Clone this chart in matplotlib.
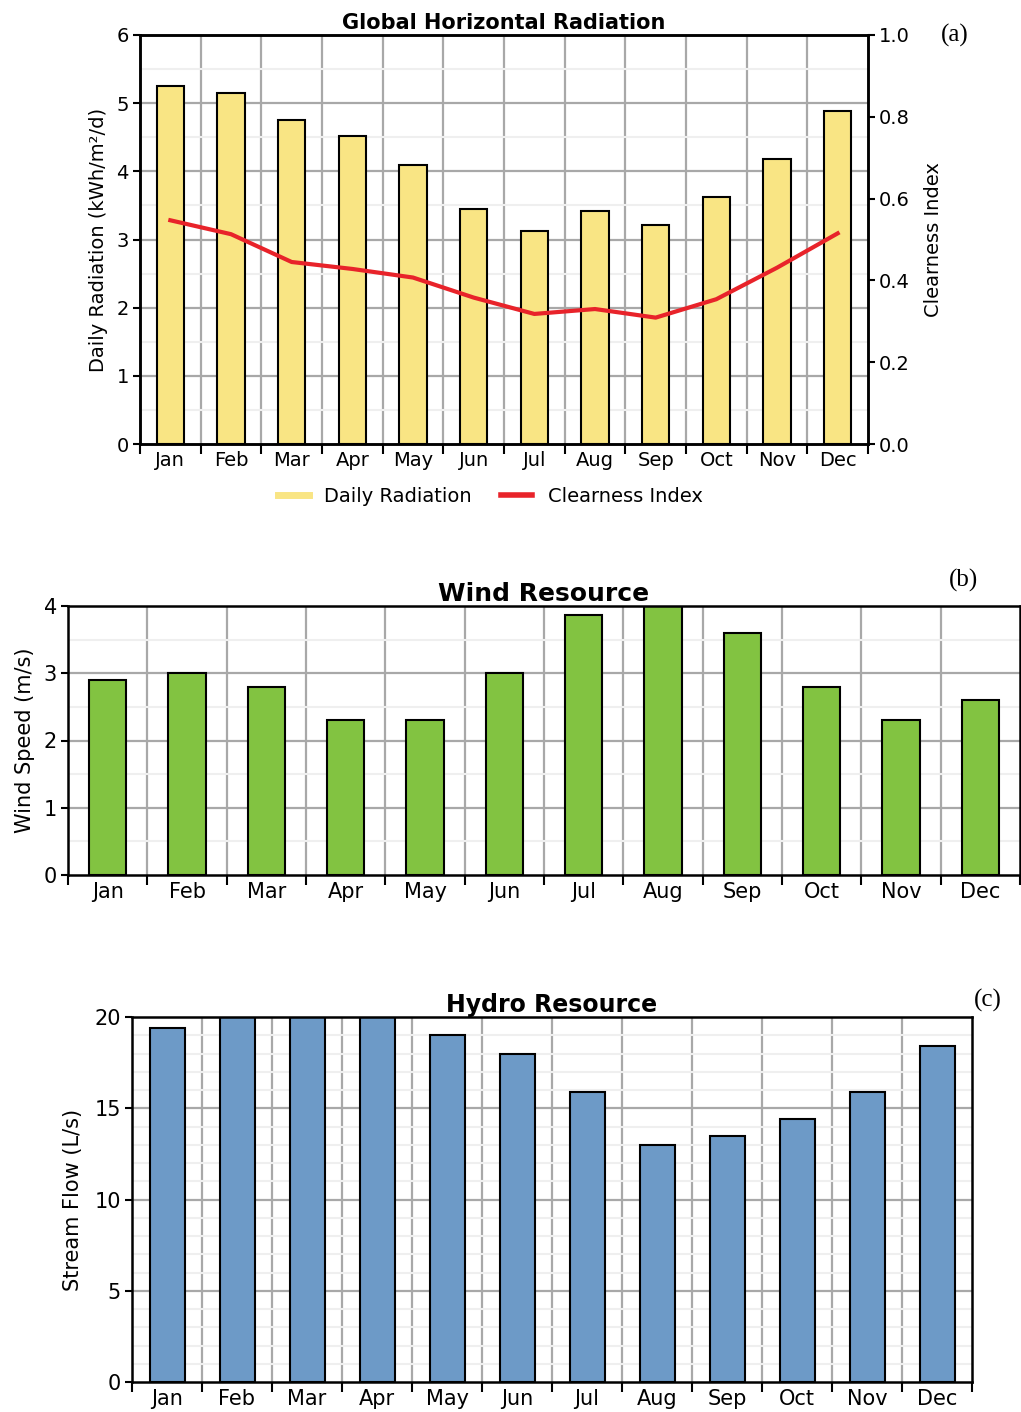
import matplotlib
matplotlib.use("Agg")
import matplotlib.pyplot as plt
import numpy as np
from matplotlib.lines import Line2D

months = ['Jan', 'Feb', 'Mar', 'Apr', 'May', 'Jun', 'Jul', 'Aug', 'Sep', 'Oct', 'Nov', 'Dec']

# (a) global horizontal radiation
daily_radiation = [5.25, 5.15, 4.75, 4.52, 4.09, 3.45, 3.12, 3.42, 3.22, 3.62, 4.18, 4.89]
clearness_index = [0.547, 0.513, 0.445, 0.428, 0.407, 0.358, 0.318, 0.330, 0.309, 0.354, 0.431, 0.515]

# (b) wind resource
wind_speed = [2.9, 3.0, 2.8, 2.3, 2.3, 3.0, 3.86, 4.0, 3.6, 2.8, 2.3, 2.6]

# (c) hydro resource
stream_flow = [19.4, 20.0, 20.0, 20.0, 19.0, 18.0, 15.9, 13.0, 13.5, 14.4, 15.9, 18.4]

YELLOW = '#F9E584'
GREEN = '#82C341'
BLUE = '#6D9AC7'
RED = '#E8232A'
GRID = '#A8A8A8'

W, H = 1021, 1412
fig = plt.figure(figsize=(W / 100, H / 100), dpi=100)


def px_axes(left, top, right, bottom):
    return fig.add_axes([left / W, 1 - bottom / H, (right - left) / W, (bottom - top) / H])


def style(ax, ymax, ystep, yminor, tick_fs=14):
    x = np.arange(len(months))
    ax.set_xlim(-0.5, len(months) - 0.5)
    ax.set_ylim(0, ymax)
    # boundary ticks + labels at centres
    ax.set_xticks(np.arange(-0.5, len(months), 1))
    ax.set_xticklabels([])
    ax.set_xticks(x, minor=True)
    ax.set_xticklabels(months, minor=True, fontsize=tick_fs)
    ax.tick_params(axis='x', which='major', length=7, width=1.5, direction='out')
    ax.tick_params(axis='x', which='minor', length=0, pad=5)
    ax.set_yticks(np.arange(0, ymax + 0.001, ystep))
    ax.set_yticks(np.arange(0, ymax + 0.001, yminor), minor=True)
    ax.tick_params(axis='y', which='major', length=5, width=1.5, labelsize=tick_fs, pad=3)
    ax.tick_params(axis='y', which='minor', length=0)
    for b in np.arange(0.5, len(months) - 1, 1):
        ax.axvline(b, color=GRID, lw=1.6, zorder=0)
    for v in np.arange(ystep, ymax, ystep):
        ax.axhline(v, color=GRID, lw=1.6, zorder=0)
    for v in np.arange(yminor, ymax, yminor):
        if abs(v / ystep - round(v / ystep)) > 1e-6:
            ax.axhline(v, color='#EFEFEF', lw=1.5, zorder=0)
    for s in ax.spines.values():
        s.set_linewidth(1.8)
    return x


# ---- (a)
ax1 = px_axes(140, 35, 868, 444)
x = style(ax1, 6, 1, 0.5)
ax1.bar(x, daily_radiation, width=0.45, color=YELLOW, edgecolor='black', linewidth=1.5, zorder=2)
ax1.set_ylabel('Daily Radiation (kWh/m²/d)', fontsize=14, labelpad=6)
ax1.set_title('Global Horizontal Radiation', fontsize=15, fontweight='bold', pad=4)
ax2 = ax1.twinx()
ax2.plot(x, clearness_index, color=RED, lw=3, zorder=3)
ax2.set_ylim(0, 1.0)
ax2.set_yticks(np.arange(0, 1.01, 0.2))
ax2.set_yticklabels(['%.1f' % v for v in np.arange(0, 1.01, 0.2)])
ax2.tick_params(axis='y', length=5, width=1.5, labelsize=14, pad=3)
ax2.set_ylabel('Clearness Index', fontsize=14, labelpad=10)
for s in ax2.spines.values():
    s.set_linewidth(1.8)
handles = [Line2D([], [], color=YELLOW, lw=5), Line2D([], [], color=RED, lw=4)]
fig.legend(handles, ['Daily Radiation', 'Clearness Index'], loc='center',
           bbox_to_anchor=(490 / W, 1 - 496 / H), ncol=2, frameon=False,
           fontsize=14, handlelength=1.6, columnspacing=1.5)
fig.text(955 / W, 1 - 35 / H, '(a)', family='Liberation Serif', fontsize=18, ha='center', va='center')

# ---- (b)
ax3 = px_axes(68, 606, 1020, 875)
x = style(ax3, 4, 1, 0.5, tick_fs=15)
ax3.bar(x, wind_speed, width=0.47, color=GREEN, edgecolor='black', linewidth=1.5, zorder=2)
ax3.set_ylabel('Wind Speed (m/s)', fontsize=15, labelpad=6)
ax3.set_title('Wind Resource', fontsize=18, fontweight='bold', pad=2)
fig.text(963 / W, 1 - 580 / H, '(b)', family='Liberation Serif', fontsize=18, ha='center', va='center')

# ---- (c)
ax4 = px_axes(132, 1017, 972, 1382)
x = style(ax4, 20, 5, 1, tick_fs=15)
ax4.bar(x, stream_flow, width=0.5, color=BLUE, edgecolor='black', linewidth=1.5, zorder=2)
ax4.set_ylabel('Stream Flow (L/s)', fontsize=15, labelpad=8)
ax4.set_title('Hydro Resource', fontsize=17, fontweight='bold', pad=2)
fig.text(988 / W, 1 - 1000 / H, '(c)', family='Liberation Serif', fontsize=18, ha='center', va='center')

fig.savefig('out.png', dpi=100)
